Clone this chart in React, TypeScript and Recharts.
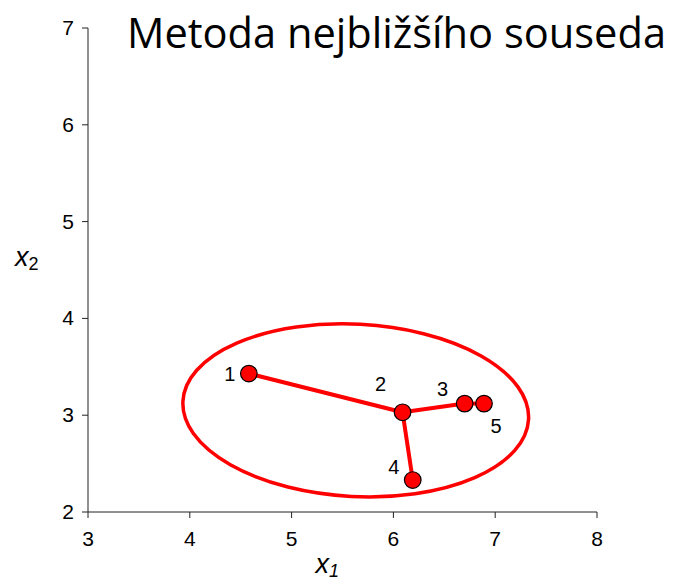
import React from 'react';
import {
  ScatterChart,
  Scatter,
  XAxis,
  YAxis,
  ReferenceLine,
  ReferenceArea,
} from 'recharts';

// point data
const pointIds = ['1', '2', '3', '4', '5'];
const x1Values = [4.58, 6.09, 6.7, 6.19, 6.89];
const x2Values = [3.43, 3.03, 3.12, 2.33, 3.12];

// nearest-neighbour links
const edges = [
  ['1', '2'],
  ['2', '3'],
  ['3', '5'],
  ['2', '4'],
];

// cluster ellipse (data units)
const clusterCenter = [5.63, 3.05];
const clusterRadii = [1.7, 0.89];

const xTicks = [3, 4, 5, 6, 7, 8];
const yTicks = [2, 3, 4, 5, 6, 7];

const title = 'Metoda nejbližšího souseda';

const points = pointIds.map((id, i) => ({ id, x: x1Values[i], y: x2Values[i] }));
const byId = (id: string) => points.find(p => p.id === id)!;

// where each number sits relative to its dot
const labelOffsets: Record<string, [number, number]> = {
  '1': [-19, 0],
  '2': [-22, -28],
  '3': [-22, -15],
  '4': [-19, -13],
  '5': [12, 22],
};

const FONT = '"Liberation Sans", Arial, sans-serif';
const RED = '#ff0000';
const AXIS = '#222';

const PointShape = (props: any) => {
  const { cx, cy, payload } = props;
  const [dx, dy] = labelOffsets[payload.id] || [0, 0];
  return (
    <g>
      <circle cx={cx} cy={cy} r={8.3} fill={RED} stroke="#000" strokeWidth={1.2} />
      <text
        x={cx + dx}
        y={cy + dy}
        textAnchor="middle"
        dominantBaseline="central"
        fontSize={20}
        fontFamily={FONT}
        fill="#000"
      >
        {payload.id}
      </text>
    </g>
  );
};

const EllipseShape = (props: any) => {
  const { x, y, width, height } = props;
  const w = Math.abs(width);
  const h = Math.abs(height);
  const cx = Math.min(x, x + width) + w / 2;
  const cy = Math.min(y, y + height) + h / 2;
  return (
    <ellipse
      cx={cx}
      cy={cy}
      rx={w / 2}
      ry={h / 2}
      transform={`rotate(3 ${cx} ${cy})`}
      fill="none"
      stroke={RED}
      strokeWidth={3.5}
    />
  );
};

const XTick = (props: any) => {
  const { x, y, payload } = props;
  return (
    <text x={x} y={y + 22} textAnchor="middle" fontSize={21} fontFamily={FONT} fill="#000">
      {payload.value}
    </text>
  );
};

const YTick = (props: any) => {
  const { x, y, payload } = props;
  return (
    <text x={x - 2} y={y + 7} textAnchor="end" fontSize={21} fontFamily={FONT} fill="#000">
      {payload.value}
    </text>
  );
};

const XLabel = (props: any) => {
  const { viewBox } = props;
  const x = viewBox.x + viewBox.width / 2 - 27;
  return (
    <text x={x} y={viewBox.y + 61} fontFamily={FONT} fontSize={27} fill="#000">
      <tspan fontStyle="italic">x</tspan>
      <tspan fontStyle="italic" fontSize={18} dy={4}>1</tspan>
    </text>
  );
};

const YLabel = (props: any) => {
  const { viewBox } = props;
  const y = viewBox.y + viewBox.height / 2 - 4;
  return (
    <text x={15} y={y} fontFamily={FONT} fontSize={27} fill="#000">
      <tspan fontStyle="italic">x</tspan>
      <tspan fontSize={18} dy={4}>2</tspan>
    </text>
  );
};

const App: React.FC = () => {
  return (
    <div style={{ position: 'absolute', left: 0, top: 0, width: 674, height: 582, background: '#fff' }}>
      <ScatterChart width={674} height={582} margin={{ top: 28, right: 77, bottom: 0, left: 0 }}>
        <XAxis
          type="number"
          dataKey="x"
          domain={[3, 8]}
          ticks={xTicks}
          allowDataOverflow
          height={70}
          stroke={AXIS}
          tickSize={6}
          tickMargin={6}
          tick={<XTick />}
          label={<XLabel />}
        />
        <YAxis
          type="number"
          dataKey="y"
          domain={[2, 7]}
          ticks={yTicks}
          allowDataOverflow
          width={88}
          stroke={AXIS}
          tickSize={6}
          tickMargin={6}
          tick={<YTick />}
          label={<YLabel />}
        />
        <ReferenceArea
          x1={clusterCenter[0] - clusterRadii[0]}
          x2={clusterCenter[0] + clusterRadii[0]}
          y1={clusterCenter[1] - clusterRadii[1]}
          y2={clusterCenter[1] + clusterRadii[1]}
          ifOverflow="visible"
          shape={<EllipseShape />}
        />
        {edges.map(([a, b]) => (
          <ReferenceLine
            key={a + b}
            segment={[
              { x: byId(a).x, y: byId(a).y },
              { x: byId(b).x, y: byId(b).y },
            ]}
            stroke={RED}
            strokeWidth={4}
            ifOverflow="visible"
          />
        ))}
        <Scatter data={points} shape={<PointShape />} isAnimationActive={false} />
      </ScatterChart>
      <svg
        width={674}
        height={70}
        style={{ position: 'absolute', left: 0, top: 0, pointerEvents: 'none' }}
      >
        <text
          x={127}
          y={48}
          fontFamily='"Open Sans", sans-serif'
          fontSize={42}
          textLength={539}
          lengthAdjust="spacingAndGlyphs"
          fill="#000"
        >
          {title}
        </text>
      </svg>
    </div>
  );
};

export default App;
